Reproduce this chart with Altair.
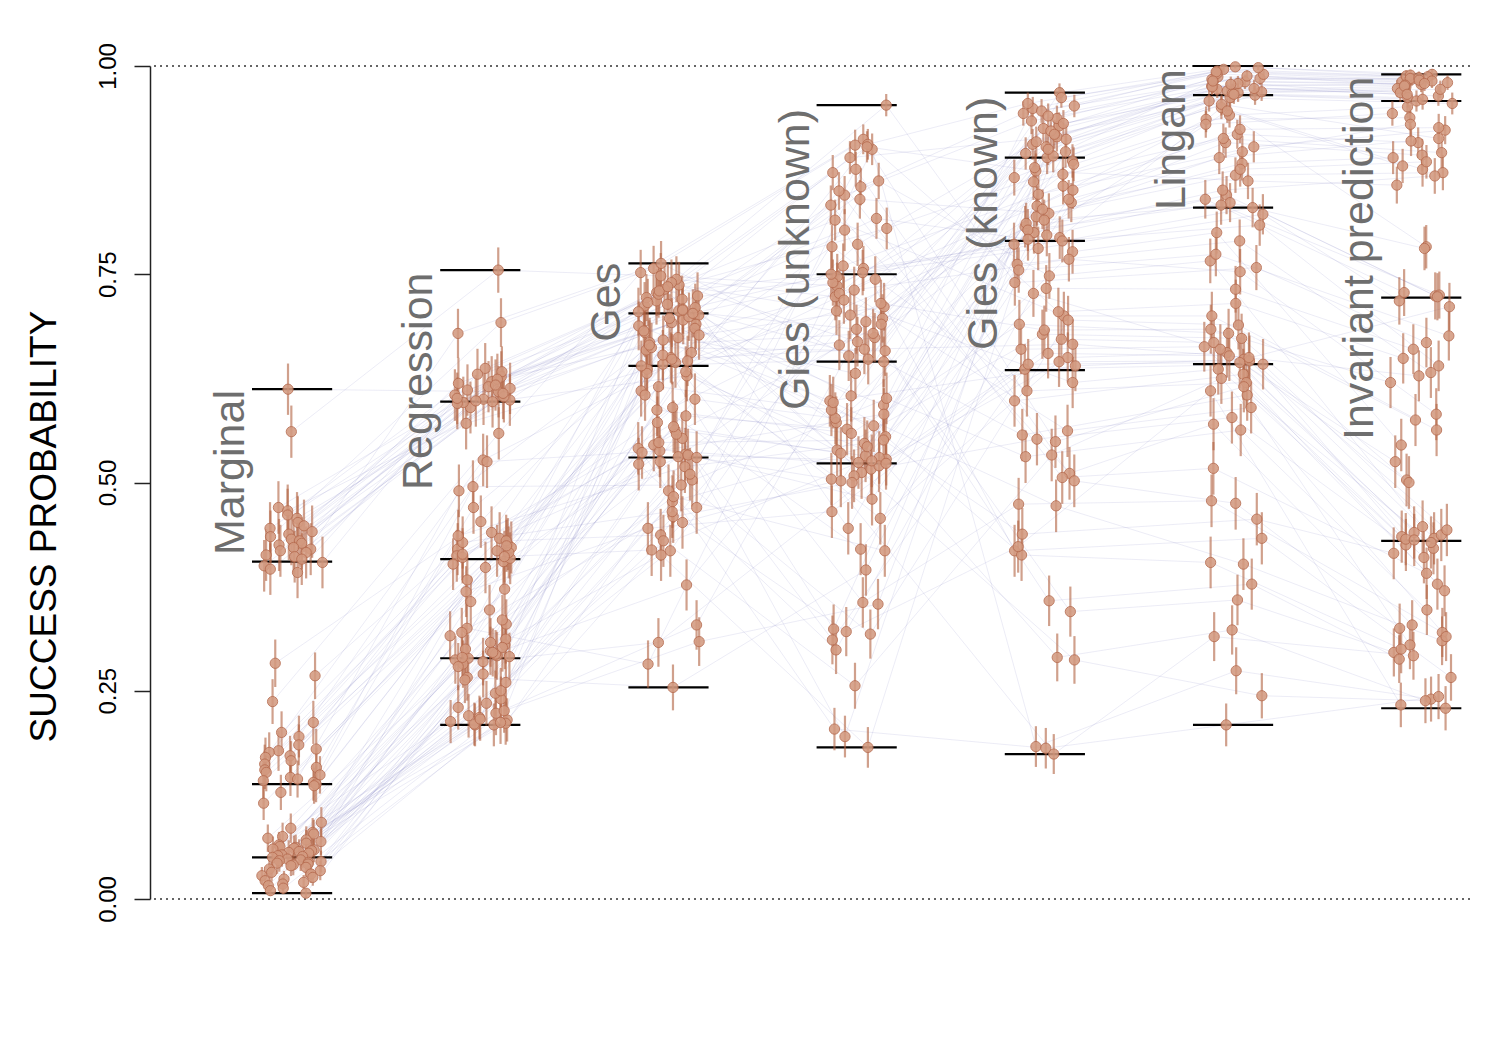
import altair as alt
import pandas as pd

methods = ["Marginal", "Regression", "Ges", "Gies (unknown)", "Gies (known)",
           "Lingam", "Invariant prediction"]

# success probability per simulation setting (same setting index across methods)
marginal = [
    0.612, 0.561, 0.470, 0.466, 0.461, 0.457, 0.452, 0.448, 0.445, 0.441,
    0.438, 0.435, 0.432, 0.430, 0.427, 0.425, 0.422, 0.420, 0.418, 0.416,
    0.413, 0.411, 0.408, 0.404, 0.400, 0.396, 0.392,
    0.283, 0.268, 0.237, 0.212, 0.200, 0.195, 0.185, 0.180, 0.178, 0.176,
    0.172, 0.170, 0.166, 0.162, 0.158, 0.155, 0.152, 0.149, 0.146, 0.144,
    0.142, 0.140, 0.138, 0.136, 0.128, 0.115,
    0.092, 0.085, 0.080, 0.078, 0.075, 0.073, 0.071, 0.069, 0.067, 0.065,
    0.063, 0.062, 0.061, 0.060, 0.059, 0.058, 0.057, 0.056, 0.055, 0.053,
    0.052, 0.051, 0.050, 0.048, 0.047, 0.046, 0.045, 0.044, 0.043, 0.042,
    0.041, 0.040, 0.038, 0.036, 0.034, 0.032, 0.030, 0.028, 0.026, 0.024,
    0.022, 0.020, 0.018, 0.016, 0.013, 0.010, 0.007,
]
regression = [
    0.609, 0.755, 0.621, 0.599, 0.637, 0.603, 0.590, 0.615, 0.627, 0.596,
    0.611, 0.692, 0.600, 0.619, 0.571, 0.605, 0.633, 0.598, 0.613, 0.624,
    0.595, 0.607, 0.679, 0.601, 0.617, 0.597, 0.630,
    0.453, 0.420, 0.559, 0.433, 0.412, 0.495, 0.426, 0.405, 0.418, 0.440,
    0.410, 0.527, 0.428, 0.414, 0.470, 0.402, 0.422, 0.436, 0.409, 0.490,
    0.416, 0.525, 0.430, 0.398, 0.424, 0.411,
    0.298, 0.372, 0.215, 0.330, 0.260, 0.289, 0.223, 0.347, 0.211, 0.305,
    0.282, 0.240, 0.316, 0.209, 0.292, 0.266, 0.383, 0.218, 0.300, 0.247,
    0.325, 0.210, 0.287, 0.235, 0.357, 0.213, 0.294, 0.270, 0.312, 0.226,
    0.290, 0.250, 0.369, 0.216, 0.302, 0.279, 0.209, 0.335, 0.263, 0.291,
    0.220, 0.308, 0.230, 0.285, 0.212, 0.320, 0.296,
]
ges = [
    0.724, 0.748, 0.701, 0.712, 0.737, 0.690, 0.718, 0.744, 0.695, 0.728,
    0.706, 0.757, 0.685, 0.720, 0.636, 0.710, 0.740, 0.699, 0.732, 0.677,
    0.714, 0.692, 0.763, 0.705, 0.680, 0.628, 0.726,
    0.668, 0.580, 0.752, 0.659, 0.545, 0.497, 0.688, 0.610, 0.650, 0.730,
    0.563, 0.644, 0.470, 0.534, 0.674, 0.590, 0.642, 0.519, 0.553, 0.703,
    0.662, 0.538, 0.437, 0.605, 0.656, 0.419,
    0.600, 0.697, 0.452, 0.633, 0.525, 0.548, 0.329, 0.682, 0.490, 0.572,
    0.413, 0.735, 0.531, 0.459, 0.646, 0.254, 0.615, 0.503, 0.541, 0.671,
    0.282, 0.558, 0.722, 0.477, 0.536, 0.418, 0.653, 0.510, 0.587, 0.309,
    0.665, 0.533, 0.445, 0.716, 0.522, 0.377, 0.631, 0.483, 0.567, 0.648,
    0.430, 0.708, 0.530, 0.308, 0.640, 0.465, 0.707,
]
gies_unknown = [
    0.845, 0.736, 0.604, 0.953, 0.697, 0.512, 0.872, 0.723, 0.555, 0.815,
    0.684, 0.905, 0.593, 0.747, 0.833, 0.445, 0.669, 0.855, 0.539, 0.711,
    0.890, 0.572, 0.652, 0.803, 0.324, 0.528, 0.757,
    0.727, 0.564, 0.912, 0.516, 0.690, 0.840, 0.598, 0.744, 0.356, 0.805,
    0.532, 0.674, 0.900, 0.480, 0.631, 0.715, 0.783, 0.547, 0.195, 0.862,
    0.658, 0.582, 0.701, 0.420, 0.752, 0.524,
    0.577, 0.740, 0.508, 0.906, 0.318, 0.551, 0.693, 0.457, 0.601, 0.786,
    0.182, 0.530, 0.665, 0.500, 0.850, 0.395, 0.587, 0.719, 0.520, 0.568,
    0.760, 0.311, 0.645, 0.543, 0.204, 0.731, 0.502, 0.876, 0.559, 0.354,
    0.679, 0.526, 0.465, 0.903, 0.299, 0.596, 0.706, 0.418, 0.535, 0.660,
    0.256, 0.817, 0.504, 0.523, 0.648, 0.321, 0.750,
]
gies_known = [
    0.934, 0.861, 0.968, 0.740, 0.906, 0.819, 0.598, 0.952, 0.832, 0.700,
    0.925, 0.874, 0.949, 0.781, 0.511, 0.897, 0.846, 0.943, 0.678, 0.886,
    0.915, 0.762, 0.807, 0.418, 0.928, 0.650, 0.794,
    0.851, 0.962, 0.705, 0.552, 0.912, 0.823, 0.640, 0.937, 0.474, 0.882,
    0.777, 0.895, 0.183, 0.836, 0.946, 0.683, 0.610, 0.811, 0.922, 0.748,
    0.345, 0.866, 0.903, 0.660, 0.797, 0.890,
    0.786, 0.562, 0.878, 0.955, 0.695, 0.438, 0.828, 0.645, 0.531, 0.909,
    0.755, 0.290, 0.870, 0.672, 0.506, 0.800, 0.940, 0.620, 0.733, 0.413,
    0.856, 0.636, 0.557, 0.918, 0.181, 0.768, 0.803, 0.502, 0.690, 0.892,
    0.358, 0.840, 0.655, 0.549, 0.727, 0.472, 0.815, 0.931, 0.287, 0.666,
    0.533, 0.792, 0.174, 0.642, 0.900, 0.423, 0.790,
]
lingam = [
    0.985, 0.918, 0.999, 0.758, 0.972, 0.883, 0.630, 0.994, 0.936, 0.700,
    0.981, 0.862, 0.996, 0.822, 0.570, 0.968, 0.903, 0.990, 0.673, 0.962,
    0.976, 0.790, 0.840, 0.433, 0.987, 0.656, 0.950,
    0.924, 0.998, 0.715, 0.578, 0.975, 0.869, 0.648, 0.984, 0.478, 0.941,
    0.800, 0.970, 0.274, 0.908, 0.991, 0.684, 0.620, 0.890, 0.979, 0.766,
    0.359, 0.958, 0.967, 0.663, 0.845, 0.965,
    0.809, 0.590, 0.954, 0.993, 0.689, 0.456, 0.876, 0.646, 0.563, 0.978,
    0.774, 0.323, 0.930, 0.668, 0.517, 0.851, 0.988, 0.636, 0.732, 0.404,
    0.913, 0.642, 0.605, 0.969, 0.209, 0.753, 0.836, 0.475, 0.679, 0.982,
    0.378, 0.897, 0.652, 0.615, 0.660, 0.402, 0.833, 0.973, 0.244, 0.650,
    0.625, 0.946, 0.315, 0.644, 0.966, 0.610, 0.830,
]
invariant = [
    0.981, 0.908, 0.990, 0.668, 0.975, 0.890, 0.421, 0.987, 0.938, 0.575,
    0.978, 0.857, 0.988, 0.718, 0.329, 0.970, 0.923, 0.984, 0.503, 0.955,
    0.964, 0.632, 0.728, 0.266, 0.982, 0.440, 0.876,
    0.926, 0.989, 0.649, 0.425, 0.980, 0.872, 0.711, 0.985, 0.320, 0.951,
    0.545, 0.973, 0.240, 0.893, 0.977, 0.620, 0.378, 0.910, 0.968, 0.447,
    0.296, 0.783, 0.962, 0.435, 0.724, 0.958,
    0.640, 0.305, 0.913, 0.986, 0.563, 0.415, 0.885, 0.433, 0.347, 0.976,
    0.676, 0.229, 0.943, 0.500, 0.391, 0.868, 0.983, 0.428, 0.660, 0.300,
    0.896, 0.437, 0.410, 0.972, 0.243, 0.582, 0.781, 0.325, 0.432, 0.979,
    0.288, 0.930, 0.628, 0.370, 0.525, 0.310, 0.725, 0.966, 0.238, 0.443,
    0.315, 0.880, 0.292, 0.431, 0.960, 0.233, 0.723,
]

# horizontal summary lines per method (min, Q1, median, Q3, max)
summary_lines = [
    [0.007, 0.050, 0.138, 0.405, 0.612],
    [0.209, 0.289, 0.408, 0.597, 0.755],
    [0.254, 0.530, 0.640, 0.703, 0.763],
    [0.182, 0.523, 0.645, 0.750, 0.953],
    [0.174, 0.635, 0.790, 0.890, 0.968],
    [0.209, 0.642, 0.830, 0.965, 1.000],
    [0.229, 0.430, 0.722, 0.958, 0.990],
]
# where each method label starts (bottom end of the rotated text)
label_start = [0.413, 0.491, 0.669, 0.587, 0.659, 0.827, 0.551]

series = [marginal, regression, ges, gies_unknown, gies_known, lingam, invariant]


def spread(i, m):
    # deterministic horizontal spread of the points within a method column
    h = ((i + 1) * 2654435761 + (m + 3) * 40503 * 97) % 4294967296
    h = (h ^ (h >> 13)) * 1274126177 % 4294967296
    return (h / 4294967296.0 - 0.5) * 0.33


rows = []
for m, vals in enumerate(series):
    for i, v in enumerate(vals):
        rows.append({"method": methods[m], "m": m, "setting": i, "p": v,
                     "x": m + spread(i, m)})
df = pd.DataFrame(rows)

qrows = []
for m, qs in enumerate(summary_lines):
    for q in qs:
        qrows.append({"m": m, "q": q})
dfq = pd.DataFrame(qrows)

dfl = pd.DataFrame({"m": list(range(len(methods))), "name": methods, "ly": label_start})
dfd = pd.DataFrame({"v": [0.0, 1.0]})

xscale = alt.Scale(domain=[-0.755, 6.259], nice=False, zero=False)
yscale = alt.Scale(domain=[0, 1], nice=False, zero=False)
yaxis = alt.Axis(
    values=[0, 0.25, 0.5, 0.75, 1.0], format=".2f", grid=False,
    labelAngle=270, labelAlign="center", labelBaseline="bottom",
    labelFontSize=24, labelFont="Liberation Sans", labelColor="black",
    labelPadding=14, labelOverlap=False,
    tickSize=16, tickColor="#222222", tickWidth=1.5,
    domainColor="#222222", domainWidth=1.5,
    title="SUCCESS PROBABILITY", titleFont="Liberation Sans", titleFontSize=37,
    titleFontWeight="normal", titleColor="black", titleAngle=270,
    titleAlign="center", titleBaseline="alphabetic", titleX=-95, titleY=460,
)

base = alt.Chart(df)

lines = base.mark_line(color="#7a7ac0", opacity=0.18, strokeWidth=0.8).encode(
    x=alt.X("x:Q", scale=xscale, axis=None),
    y=alt.Y("p:Q", scale=yscale, axis=yaxis),
    detail="setting:N",
    order="m:Q",
)

dotted = alt.Chart(dfd).mark_rule(color="#333333", strokeDash=[2, 4], strokeWidth=1.3).encode(
    y=alt.Y("v:Q", scale=yscale, axis=yaxis),
)

qlines = alt.Chart(dfq).transform_calculate(
    x1="datum.m - 0.213", x2="datum.m + 0.213"
).mark_rule(color="black", strokeWidth=2.2).encode(
    x=alt.X("x1:Q", scale=xscale, axis=None),
    x2="x2:Q",
    y=alt.Y("q:Q", scale=yscale, axis=yaxis),
)

errs = base.transform_calculate(
    lo="datum.p - 2*sqrt(datum.p*(1-datum.p)/1000)",
    hi="datum.p + 2*sqrt(datum.p*(1-datum.p)/1000)",
).mark_rule(color="#b0603f", opacity=0.6, strokeWidth=2.2).encode(
    x=alt.X("x:Q", scale=xscale, axis=None),
    y=alt.Y("lo:Q", scale=yscale, axis=yaxis),
    y2="hi:Q",
)

pts = base.mark_circle(size=105, color="#d39a80", opacity=0.88,
                       stroke="#b86e52", strokeWidth=1).encode(
    x=alt.X("x:Q", scale=xscale, axis=None),
    y=alt.Y("p:Q", scale=yscale, axis=yaxis),
)

labels = alt.Chart(dfl).transform_calculate(
    lx="datum.m - 0.255"
).mark_text(angle=270, align="left", baseline="alphabetic", fontSize=43,
            font="Liberation Sans", color="#6e6e6e").encode(
    x=alt.X("lx:Q", scale=xscale, axis=None),
    y=alt.Y("ly:Q", scale=yscale, axis=yaxis),
    text="name:N",
)

chart = alt.layer(lines, dotted, qlines, errs, pts, labels).properties(
    width=1320, height=833,
    padding={"left": 142, "top": 58, "right": 22, "bottom": 100},
    autosize=alt.AutoSizeParams(type="none"),
).configure(background="white").configure_view(stroke=None)

chart.save("out.html", embed_options={"renderer": "svg", "actions": False})
